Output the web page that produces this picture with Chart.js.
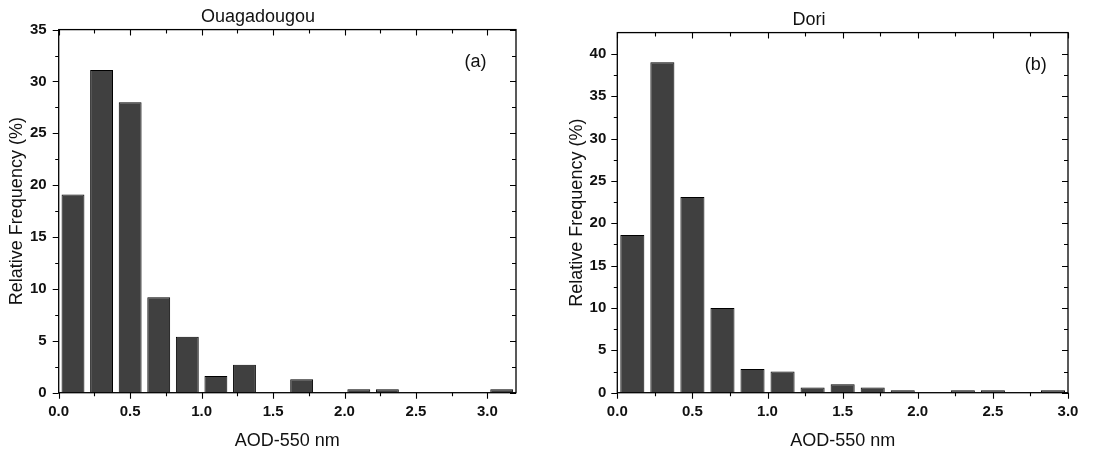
<!DOCTYPE html>
<html>
<head>
<meta charset="utf-8">
<script src="https://cdn.jsdelivr.net/npm/chart.js@4.4.0/dist/chart.umd.min.js"></script>
<style>
  html, body { margin: 0; padding: 0; background: #fff; }
  #wrap { position: relative; width: 1102px; height: 452px; }
  canvas { position: absolute; top: 0; }
  #chartA { left: 0; }
  #chartB { left: 550px; }
</style>
</head>
<body>
<div id="wrap">
  <canvas id="chartA" width="550" height="452"></canvas>
  <canvas id="chartB" width="552" height="452"></canvas>
</div>
<script>
// bin centres (AOD-550 nm, 0.2 wide bins)
const ouagaBins = [0.1, 0.3, 0.5, 0.7, 0.9, 1.1, 1.3, 1.5, 1.7, 1.9, 2.1, 2.3, 2.5, 2.7, 2.9, 3.1];
const ouagaFreq = [19.1, 31.1, 28.0, 9.2, 5.4, 1.6, 2.7, 0, 1.3, 0, 0.33, 0.33, 0, 0, 0, 0.33];

const doriBins = [0.1, 0.3, 0.5, 0.7, 0.9, 1.1, 1.3, 1.5, 1.7, 1.9, 2.1, 2.3, 2.5, 2.7, 2.9];
const doriFreq = [18.6, 39.0, 23.1, 10.0, 2.8, 2.5, 0.6, 1.0, 0.6, 0.28, 0, 0.28, 0.28, 0, 0.28];

const FONT = "'Liberation Sans', Arial, sans-serif";
const INK = '#111';

// frame box + Origin style ticks (out on left/bottom, in on top/right) and panel tag
const framePlugin = {
    id: 'frame',
    afterDraw(chart, args, opts) {
        const { ctx, chartArea: a, scales } = chart;
        const x = scales.x, y = scales.y;
        ctx.save();
        ctx.strokeStyle = '#000';
        ctx.lineWidth = 1.3;
        ctx.strokeRect(a.left, a.top, a.right - a.left, a.bottom - a.top);

        ctx.lineWidth = 1.1;
        ctx.beginPath();
        const xt = x.ticks.map(t => t.value);
        const xStep = xt[1] - xt[0];
        xt.forEach(v => {
            const px = Math.round(x.getPixelForValue(v)) + 0.5;
            ctx.moveTo(px, a.bottom); ctx.lineTo(px, a.bottom + 6);
            ctx.moveTo(px, a.top); ctx.lineTo(px, a.top + 6);
            const m = v + xStep / 2;
            if (m < x.max) {
                const pm = Math.round(x.getPixelForValue(m)) + 0.5;
                ctx.moveTo(pm, a.bottom); ctx.lineTo(pm, a.bottom + 3.5);
                ctx.moveTo(pm, a.top); ctx.lineTo(pm, a.top + 4);
            }
        });
        const yt = y.ticks.map(t => t.value);
        const yStep = yt[1] - yt[0];
        yt.forEach(v => {
            const py = Math.round(y.getPixelForValue(v)) + 0.5;
            ctx.moveTo(a.left, py); ctx.lineTo(a.left - 6, py);
            ctx.moveTo(a.right, py); ctx.lineTo(a.right - 6, py);
            const m = v + yStep / 2;
            if (m < y.max) {
                const pm = Math.round(y.getPixelForValue(m)) + 0.5;
                ctx.moveTo(a.left, pm); ctx.lineTo(a.left - 3.5, pm);
                ctx.moveTo(a.right, pm); ctx.lineTo(a.right - 4, pm);
            }
        });
        ctx.stroke();

        ctx.fillStyle = INK;
        ctx.font = '18px ' + FONT;
        ctx.textAlign = 'center';
        ctx.textBaseline = 'middle';
        ctx.fillText(opts.tag, a.right - opts.tagDx, a.top + opts.tagDy);
        ctx.restore();
    }
};

function makePanel(id, title, tag, bins, freq, o) {
    const el = document.getElementById(id);
    const ctx = el.getContext('2d');
    return new Chart(ctx, {
        type: 'bar',
        data: {
            datasets: [{
                data: bins.map((b, i) => ({ x: b, y: freq[i] })),
                backgroundColor: '#404040',
                borderColor: '#000',
                borderWidth: c => (c.raw && c.raw.y > 0 ? 1 : 0),
                borderSkipped: 'bottom',
                barPercentage: 0.8,
                categoryPercentage: 1.0
            }]
        },
        options: {
            responsive: false,
            animation: false,
            devicePixelRatio: 1,
            layout: { padding: { left: 0, right: o.padRight, top: 0, bottom: 0 } },
            plugins: {
                legend: { display: false },
                tooltip: { enabled: false },
                title: {
                    display: true, text: title, color: INK,
                    font: { family: FONT, size: 18, weight: 'normal', lineHeight: 1.2 },
                    padding: { top: o.titleTop, bottom: o.titleBottom }
                },
                frame: { tag: tag, tagDx: o.tagDx, tagDy: o.tagDy }
            },
            scales: {
                x: {
                    type: 'linear', min: 0, max: o.xMax, offset: false,
                    grid: { display: false, drawTicks: false },
                    border: { display: false },
                    ticks: {
                        stepSize: 0.5, includeBounds: false, padding: 10, maxRotation: 0,
                        color: INK, font: { family: FONT, size: 15, weight: 'bold' },
                        callback: v => v.toFixed(1)
                    },
                    title: {
                        display: true, text: 'AOD-550 nm', color: INK,
                        font: { family: FONT, size: 18, lineHeight: 1.2 },
                        padding: { top: 0, bottom: 0 }
                    },
                    afterFit: s => { s.height = 59.3; }
                },
                y: {
                    min: 0, max: o.yMax,
                    grid: { display: false, drawTicks: false },
                    border: { display: false },
                    ticks: {
                        stepSize: 5, includeBounds: false, padding: o.yPad,
                        color: INK, font: { family: FONT, size: 15, weight: 'bold' }
                    },
                    title: {
                        display: true, text: 'Relative Frequency (%)', color: INK,
                        font: { family: FONT, size: 18, lineHeight: 1.2 },
                        padding: { top: o.yTitleTop, bottom: 0 }
                    },
                    afterFit: s => { s.width = o.axisLeft; }
                }
            }
        },
        plugins: [framePlugin]
    });
}

makePanel('chartA', 'Ouagadougou', '(a)', ouagaBins, ouagaFreq, {
    xMax: 3.2, yMax: 35, padRight: 34, axisLeft: 58.7, yPad: 12, yTitleTop: 6,
    titleTop: 6, titleBottom: 2, tagDx: 40.5, tagDy: 32
});
makePanel('chartB', 'Dori', '(b)', doriBins, doriFreq, {
    xMax: 3.0, yMax: 42.5, padRight: 34, axisLeft: 67.3, yPad: 11, yTitleTop: 16,
    titleTop: 9, titleBottom: 2, tagDx: 32.3, tagDy: 32.3
});
</script>
</body>
</html>
